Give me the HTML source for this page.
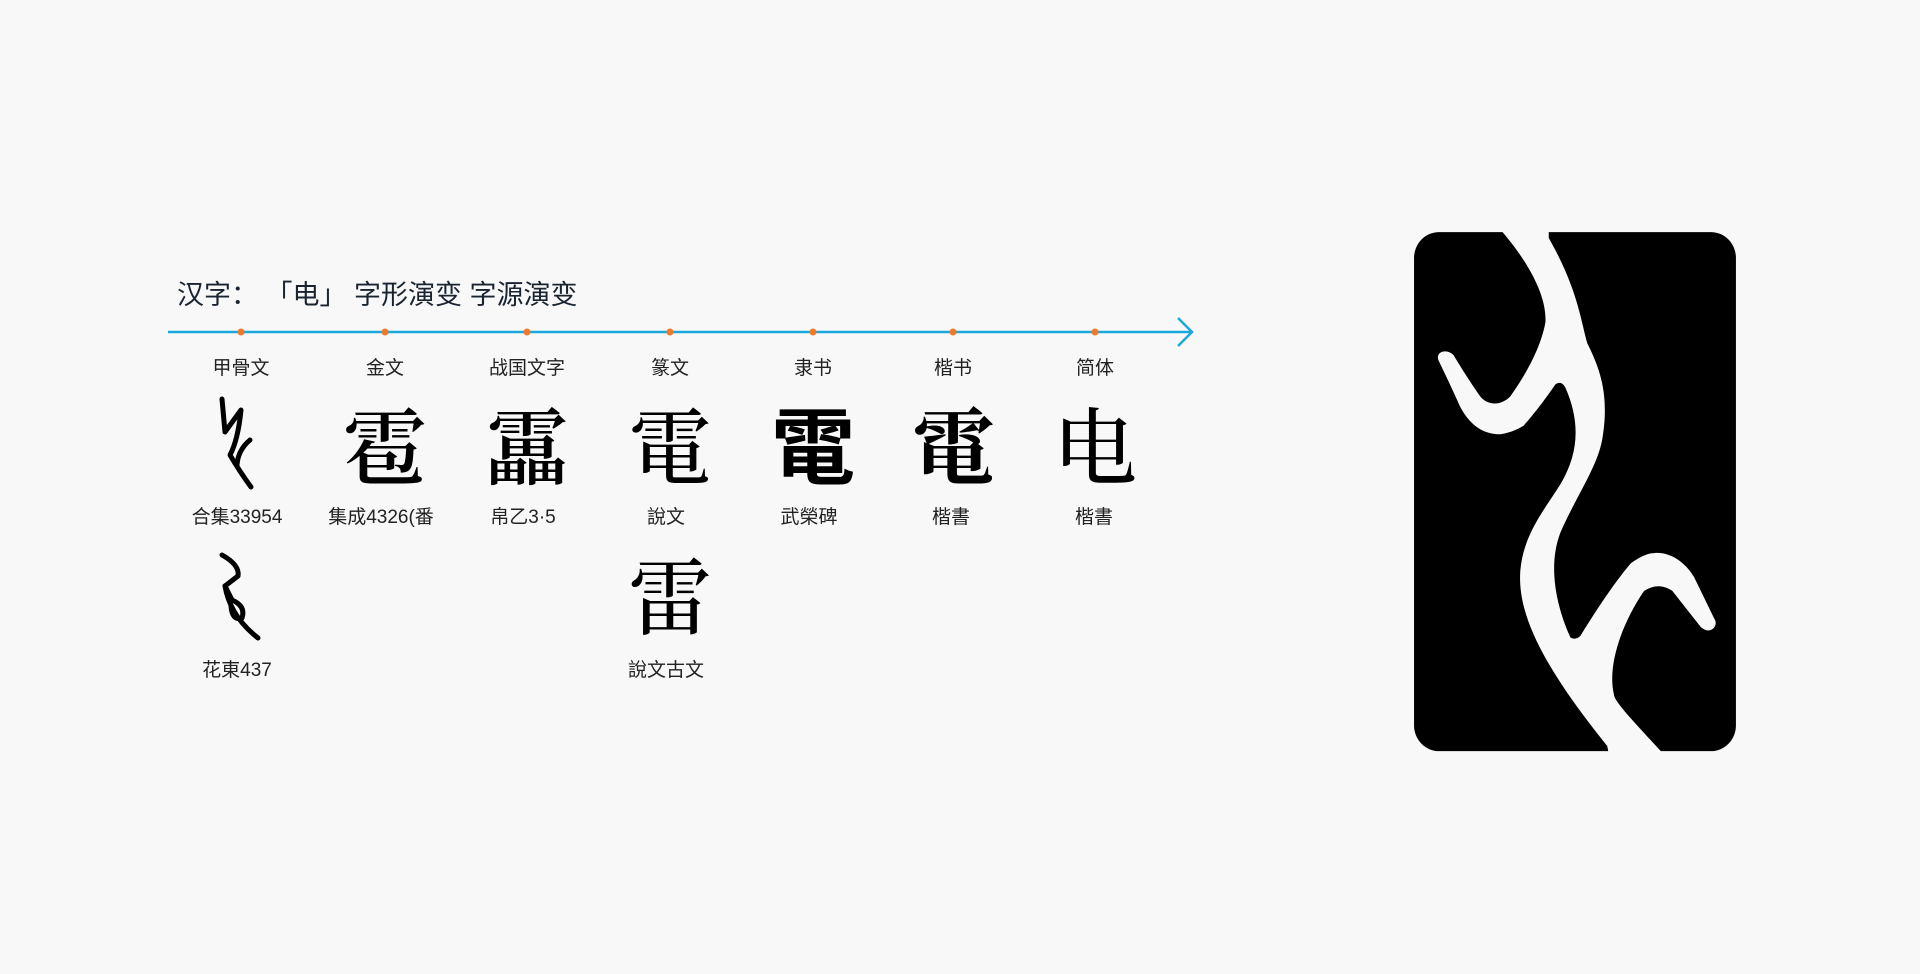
<!DOCTYPE html>
<html><head><meta charset="utf-8"><style>
html,body{margin:0;padding:0;background:#f8f8f8;}
body{width:1920px;height:974px;position:relative;overflow:hidden;font-family:"Liberation Sans","Noto Sans CJK SC",sans-serif;color:#222;}
.t{position:absolute;white-space:nowrap;}
.lab{position:absolute;width:140px;text-align:center;font-size:19px;color:#222;}
.g{position:absolute;width:140px;text-align:center;font-size:84px;line-height:100px;color:#000;}
</style></head><body>
<div class="t" style="left:177px;top:273px;font-size:27px;color:#1a2330;">汉字： 「电」 字形演变 字源演变</div>
<svg style="position:absolute;left:0;top:0" width="1920" height="974">
<line x1="168" y1="332" x2="1190" y2="332" stroke="#1ba8dc" stroke-width="2.5"/>
<polyline points="1178,318 1192,332 1178,346" fill="none" stroke="#1ba8dc" stroke-width="2.5"/>
<g fill="#f07a2a">
<circle cx="241" cy="332" r="3.5"/><circle cx="385" cy="332" r="3.5"/><circle cx="527" cy="332" r="3.5"/><circle cx="670" cy="332" r="3.5"/><circle cx="813" cy="332" r="3.5"/><circle cx="953" cy="332" r="3.5"/><circle cx="1095" cy="332" r="3.5"/>
</g>
<g fill="none" stroke="#000" stroke-width="5" stroke-linecap="round" stroke-linejoin="round">
<path d="M222,399 L225,432 L241,410 Q238,440 230,455 Q240,472 251,487"/>
<path d="M250,440 Q238,450 237,465"/>
<path d="M222,555 Q240,565 238,576 L225,586 L232,600 Q246,606 242,618 Q232,621 231,606"/>
<path d="M225,586 Q230,616 258,638"/>
</g>
</svg>
<div class="lab" style="left:171px;top:353px;">甲骨文</div>
<div class="lab" style="left:315px;top:353px;">金文</div>
<div class="lab" style="left:457px;top:353px;">战国文字</div>
<div class="lab" style="left:600px;top:353px;">篆文</div>
<div class="lab" style="left:743px;top:353px;">隶书</div>
<div class="lab" style="left:883px;top:353px;">楷书</div>
<div class="lab" style="left:1025px;top:353px;">简体</div>

<div class="g" style="left:315px;top:393px;font-family:'Noto Serif CJK SC',serif;font-weight:600;">雹</div>
<div class="g" style="left:457px;top:393px;font-family:'Noto Serif CJK SC',serif;font-weight:600;">靁</div>
<div class="g" style="left:600px;top:393px;font-family:'Noto Serif CJK SC',serif;font-weight:500;">電</div>
<div class="g" style="left:743px;top:393px;font-family:'Noto Sans CJK TC',sans-serif;font-weight:700;">電</div>
<div class="g" style="left:883px;top:393px;font-family:'Noto Serif CJK TC','Noto Serif CJK SC',serif;font-weight:700;">電</div>
<div class="g" style="left:1025px;top:393px;font-family:'Noto Serif CJK SC',serif;font-weight:500;">电</div>
<div class="g" style="left:600px;top:543px;font-family:'Noto Serif CJK SC',serif;font-weight:500;">雷</div>

<div class="lab" style="left:167px;top:502px;">合集33954</div>
<div class="lab" style="left:311px;top:502px;">集成4326(番</div>
<div class="lab" style="left:453px;top:502px;">帛乙3·5</div>
<div class="lab" style="left:596px;top:502px;">說文</div>
<div class="lab" style="left:739px;top:502px;">武榮碑</div>
<div class="lab" style="left:881px;top:502px;">楷書</div>
<div class="lab" style="left:1024px;top:502px;">楷書</div>
<div class="lab" style="left:167px;top:655px;">花東437</div>
<div class="lab" style="left:596px;top:655px;">說文古文</div>

<svg style="position:absolute;left:1400px;top:219px" width="361" height="558" viewBox="0 0 1080 1620" preserveAspectRatio="none">
<rect x="42" y="38" width="963" height="1507" rx="75" fill="#000"/>
<path fill="#f8f8f8" d="M300,30 C380,120 440,220 435,300 C420,380 370,460 330,515 C300,545 260,540 240,515 C200,460 160,395 160,395 C140,375 105,385 115,410 C150,480 180,545 180,545 C210,600 250,625 300,625 C340,620 370,600 370,600 C420,545 465,480 465,480 C480,470 490,480 495,490 C540,590 535,680 480,770 C420,860 370,920 360,1020 C350,1150 430,1300 620,1530 L625,1555 L790,1555 C700,1460 640,1400 640,1380 C620,1300 660,1180 730,1080 C770,1055 800,1070 815,1080 L900,1185 C930,1210 955,1180 940,1160 L880,1040 C850,990 800,965 760,970 C730,970 690,1000 690,1000 C620,1080 540,1210 540,1210 C525,1225 510,1215 510,1215 C470,1130 440,1010 480,910 C530,800 590,720 605,640 C630,500 590,420 560,360 C540,290 530,200 445,55 L445,30 Z"/>
</svg>
</body></html>
